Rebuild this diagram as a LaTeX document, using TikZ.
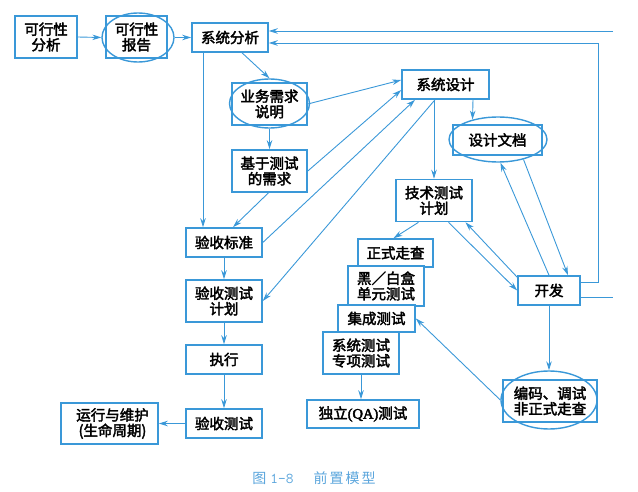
\documentclass[tikz,border=0pt]{standalone}
\usepackage{fontspec}
\newfontfamily\cjk{Noto Sans CJK SC}[FakeBold=2.6]
\newfontfamily\cjkcap{Noto Sans CJK SC}
\newfontfamily\lat{Liberation Serif}[FakeBold=2.6]
\usetikzlibrary{shapes.geometric,arrows.meta,calc}
\definecolor{bl}{HTML}{3A98D8}
\definecolor{capc}{HTML}{5AA5DC}
\begin{document}
\begin{tikzpicture}[x=1pt,y=-1pt,
  box/.style={draw=bl, line width=1.6pt, fill=white, inner sep=0pt, align=center,
    font=\cjk\fontsize{14.5}{15.5}\selectfont},
  ell/.style={ellipse, draw=bl, line width=1.4pt, inner sep=0pt},
  arr/.style={draw=bl, line width=0.9pt, -{Stealth[length=9pt,width=5.5pt]}},
  ln/.style={draw=bl, line width=0.9pt}]
\useasboundingbox (0,0) rectangle (638,492);

% nodes
\node[box, minimum width=62pt, minimum height=42pt] (kxfx) at (46,37) {可行性\\分析};
\node[box, fill=none, minimum width=61pt, minimum height=42pt] (kxbg) at (136.5,37) {可行性\\报告};
\node[ell, minimum width=72pt, minimum height=49pt] (kxbgE) at (138,37.5) {};
\node[box, minimum width=76pt, minimum height=29pt] (xtfx) at (230,37.5) {系统分析};
\node[box, fill=none, minimum width=75pt, minimum height=42pt] (ywxq) at (269.5,104) {业务需求\\说明};
\node[ell, minimum width=80pt, minimum height=49pt] (ywxqE) at (269.5,103.5) {};
\node[box, minimum width=87pt, minimum height=29pt] (xtsj) at (445.5,84.5) {系统设计};
\node[box, fill=none, minimum width=89pt, minimum height=30pt] (sjwd) at (497.5,140) {设计文档};
\node[ell, minimum width=98pt, minimum height=45pt] (sjwdE) at (498,139.5) {};
\node[box, minimum width=75pt, minimum height=42pt] (jycs) at (269.5,171) {基于测试\\的需求};
\node[box, minimum width=76pt, minimum height=42pt] (jscsjh) at (434,200.5) {技术测试\\计划};
\node[box, minimum width=76pt, minimum height=29pt] (ysbz) at (224,242.5) {验收标准};
\node[box, minimum width=75pt, minimum height=28pt] (zszc) at (395.5,253) {正式走查};
\node[box, minimum width=76pt, minimum height=40pt] (hbh) at (386,286) {黑／白盒\\单元测试};
\node[box, minimum width=77pt, minimum height=27pt] (jccs) at (376.5,318.5) {集成测试};
\node[box, minimum width=76pt, minimum height=42pt] (xtcs) at (361,353) {系统测试\\专项测试};
\node[box, minimum width=112pt, minimum height=28pt] (dlcs) at (363,414) {独立{\lat (QA)}测试};
\node[box, minimum width=76pt, minimum height=42pt] (yscsjh) at (224,301) {验收测试\\计划};
\node[box, minimum width=76pt, minimum height=29pt] (zx) at (224,359.5) {执行};
\node[box, minimum width=76pt, minimum height=29pt] (yscs) at (224,423.5) {验收测试};
\node[box, minimum width=97pt, minimum height=41pt] (yxwh) at (109.5,423.5) {\hspace*{6pt}运行与维护\\\hspace*{6pt}(生命周期)};
\node[box, minimum width=62pt, minimum height=29pt] (kf) at (549,290.5) {开发};
\node[box, fill=none, minimum width=94pt, minimum height=42pt] (bmts) at (550,401) {编码、调试\\非正式走查};
\node[ell, minimum width=96pt, minimum height=58pt] (bmtsE) at (549,400) {};

% caption
\node[text=capc, inner sep=0pt, font=\cjkcap\fontsize{14}{16}\selectfont] (cap) at (314,478.5)
  {图\hspace{4pt}{\ttfamily\fontsize{15}{16}\selectfont 1-8}\hspace{20pt}前\hspace{2pt}置\hspace{2pt}模\hspace{2pt}型};

% right loop coordinates
\coordinate (r1) at (598,282);
\coordinate (r2) at (598,43);
\coordinate (e1) at (613,297);
\coordinate (e2) at (613,31);

% connectors
\draw[arr] (kxfx.east) -- (kxbgE.west);
\draw[arr] (kxbgE.east) -- (xtfx.west);
\draw[arr] ([xshift=12pt]xtfx.south) -- (ywxqE.north);
\draw[arr] ([xshift=-27pt]xtfx.south) -- ([xshift=-21pt]ysbz.north);
\draw[arr] (ywxq.east) -- ([yshift=4.5pt]xtsj.west);
\draw[arr] (ywxqE.south) -- (jycs.north);
\draw[arr] (jycs.east) -- ([yshift=-5.5pt]xtsj.west);
\draw[arr] ([xshift=-1pt]jycs.south) -- ([xshift=9pt]ysbz.north);
\draw[arr] (ysbz.east) -- ([xshift=-30.5pt]xtsj.south);
\draw[arr] ([xshift=-10.5pt]xtsj.south) -- (yscsjh.east);
\draw[arr] ([xshift=-11.5pt]xtsj.south) -- ([xshift=0pt]jscsjh.north);
\draw[arr] ([xshift=27.5pt]xtsj.south) -- (sjwdE.142);
\draw[arr] ([xshift=-15.5pt]jscsjh.south) -- ([xshift=-2pt]zszc.north);
\draw[arr] ([xshift=14.5pt]jscsjh.south) -- (kf.west);
\draw[arr] ([yshift=-2pt]kf.north west) -- ([xshift=31.5pt]jscsjh.south);
\draw[arr] (kf.north) -- (sjwdE.-84);
\draw[arr] (sjwdE.-38) -- ([xshift=19pt]kf.north);
\draw[arr] (kf.south) -- (bmtsE.north);
\draw[arr] (bmtsE.west) -- (jccs.east);
\draw[arr] (xtcs.south) -- (xtcs.south |- dlcs.north);
\draw[arr] (ysbz.south) -- (yscsjh.north);
\draw[arr] (yscsjh.south) -- (zx.north);
\draw[arr] (zx.south) -- (yscs.north);
\draw[arr] (yscs.west) -- (yxwh.east);
\draw[arr] ([yshift=8.5pt]kf.east) -- (r1) -- (r2) -- ([yshift=-5.5pt]xtfx.east);
\draw[ln] ([yshift=-6.5pt]kf.east) -- (e1);
\draw[arr] (e2) -- ([yshift=6.5pt]xtfx.east);
\end{tikzpicture}
\end{document}
